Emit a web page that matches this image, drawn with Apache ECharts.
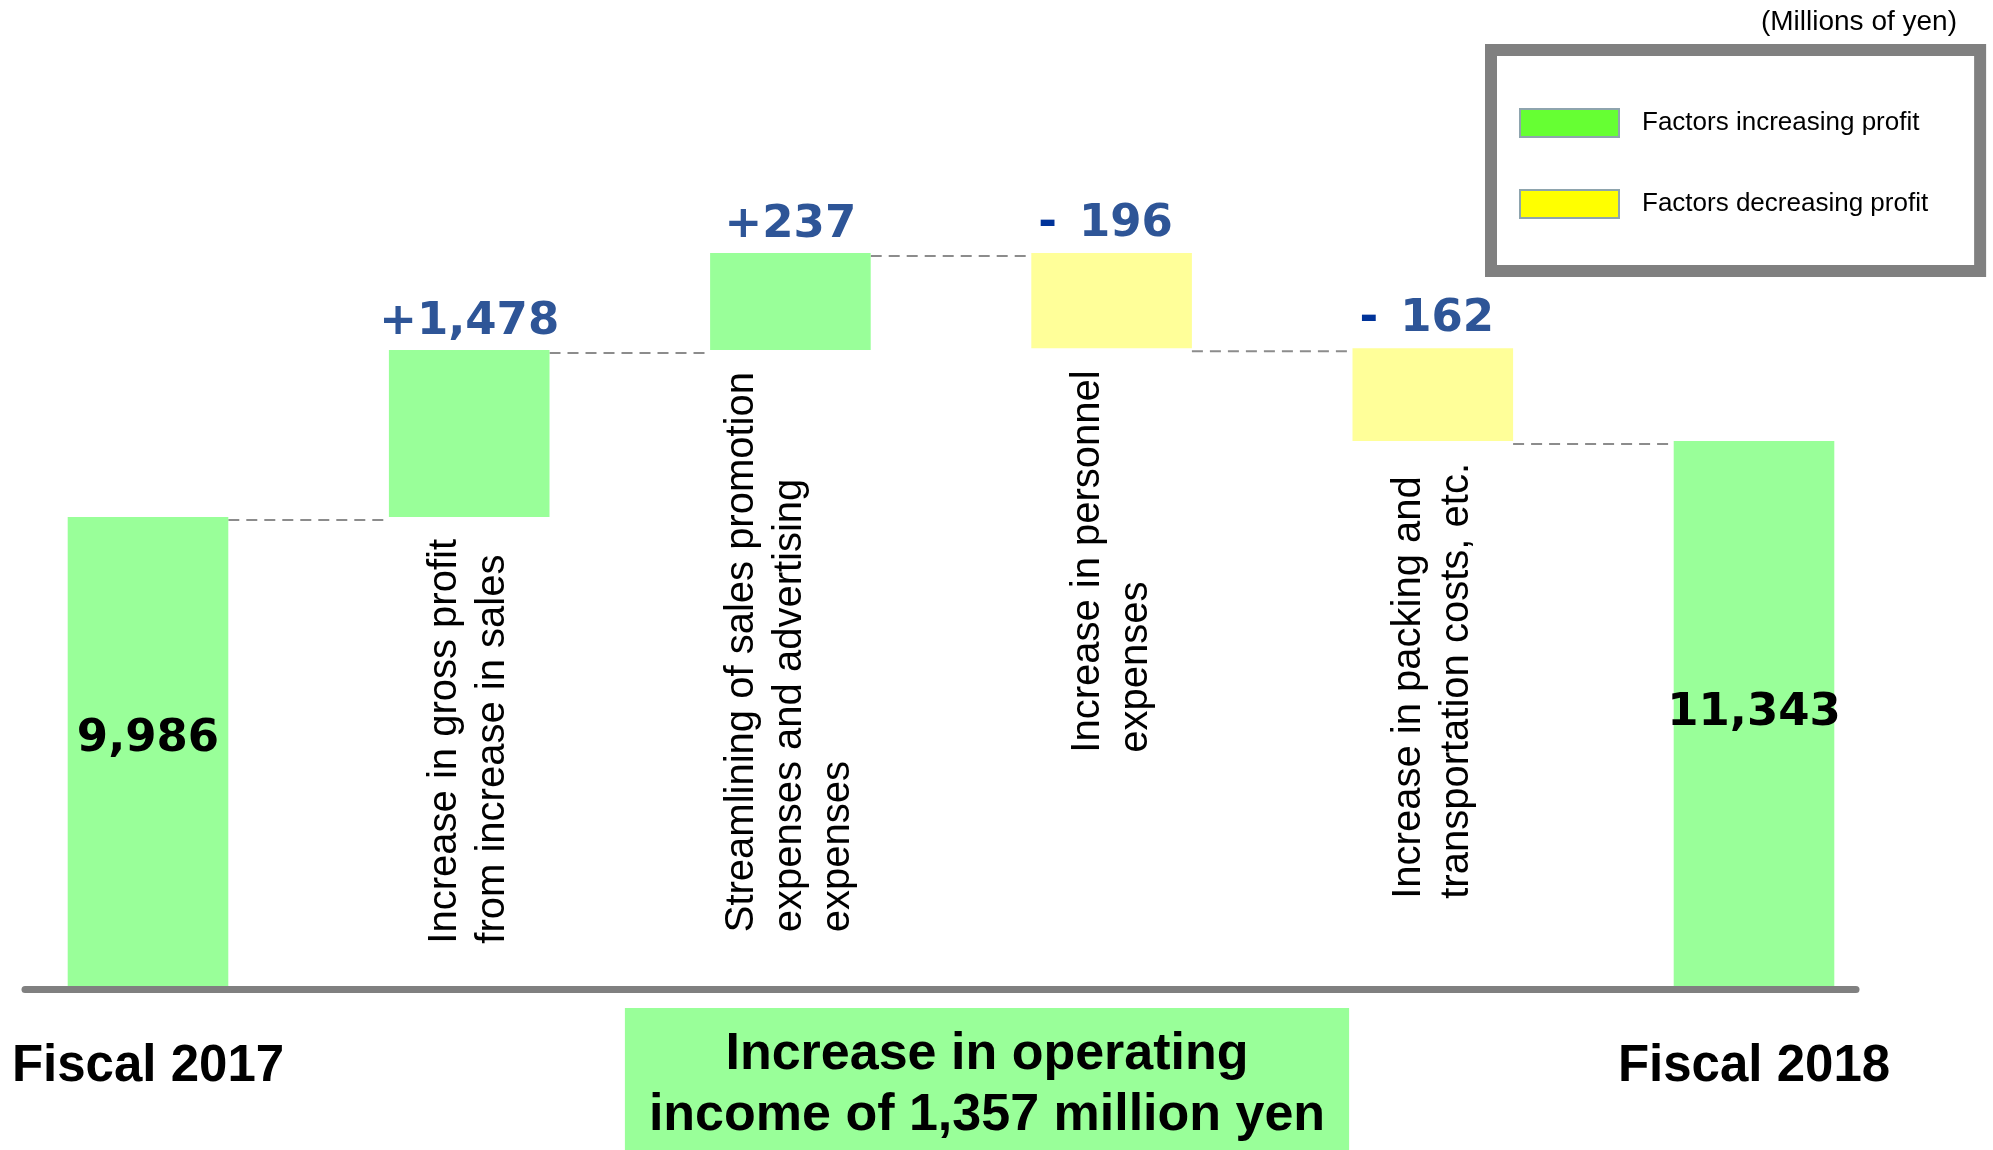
<!DOCTYPE html>
<html><head><meta charset="utf-8">
<script src="https://cdn.jsdelivr.net/npm/echarts@6/dist/echarts.min.js"></script>
<style>html,body{margin:0;padding:0;background:#fff}#c{width:1993px;height:1150px}</style>
</head><body><div id="c"></div>
<script>
// ---- data ----
const categories = [
  'Fiscal 2017',
  'Increase in gross profit\nfrom increase in sales',
  'Streamlining of sales promotion\nexpenses and advertising\nexpenses',
  'Increase in personnel\nexpenses',
  'Increase in packing and\ntransportation costs, etc.',
  'Fiscal 2018'
];
const amounts = [9986, 1478, 237, -196, -162, 11343];   // millions of yen
const isTotal = [true, false, false, false, false, true];
const legendNames = ['Factors increasing profit', 'Factors decreasing profit'];
const totalName = 'Operating income';
const unitNote = '(Millions of yen)';

// ---- waterfall derivation ----
const fmt = v => Math.abs(v).toLocaleString('en-US');
const base = [], tot = [], inc = [], dec = [], levels = [];
let run = 0;
amounts.forEach((v, i) => {
  if (isTotal[i]) { base.push(0); tot.push(v); inc.push('-'); dec.push('-'); run = v; }
  else if (v >= 0) { base.push(run); inc.push(v); dec.push('-'); tot.push('-'); run += v; }
  else { base.push(run + v); dec.push(-v); inc.push('-'); tot.push('-'); run += v; }
  levels.push(run);
});
const peak = Math.max(...levels);
const change = amounts[amounts.length - 1] - amounts[0];
const connectors = levels.slice(0, -1).map((l, i) => [i, l]);
const totData = tot.map((v, i) => i === 0 ? {value: v, label: {offset: [0, -12]}} : v);

const chart = echarts.init(document.getElementById('c'), null, {renderer: 'canvas'});
const labelFont = 'Liberation Sans';
const numFont = 'DejaVu Sans';

chart.setOption({
  animation: false,
  backgroundColor: '#fff',
  textStyle: {fontFamily: labelFont},
  title: [
    {text: unitNote, right: 36, top: 8, padding: 0,
     textStyle: {fontSize: 28, fontWeight: 'normal', fontFamily: labelFont, color: '#000'}},
    {text: 'Increase in operating\nincome of ' + fmt(change) + ' million yen',
     left: 963, top: 1008, textAlign: 'center', textVerticalAlign: 'top',
     padding: [16, 24, 40, 24], backgroundColor: '#99FF99',
     textStyle: {fontSize: 52, fontWeight: 'bold', fontFamily: labelFont, color: '#000', lineHeight: 61}}
  ],
  legend: {
    orient: 'vertical', left: 1491, top: 50,
    data: [{name: legendNames[0], itemStyle: {color: '#66FF33'}},
           {name: legendNames[1], itemStyle: {color: '#FFFF00'}}],
    icon: 'rect', itemWidth: 99, itemHeight: 28, itemGap: 51,
    padding: [58, 52, 52, 28], borderColor: '#808080', borderWidth: 12, backgroundColor: '#fff',
    itemStyle: {borderColor: '#8EA4AE', borderWidth: 2},
    selectedMode: false,
    textStyle: {fontSize: 26, fontFamily: labelFont, color: '#000', padding: [0, 0, 0, 18]}
  },
  grid: [
    {left: 148, right: 239, top: 253, bottom: 164, containLabel: false, outerBoundsMode: 'none'},
    {left: 25, right: 137, top: 253, bottom: 161, containLabel: false, outerBoundsMode: 'none'}
  ],
  xAxis: [
    {type: 'category', gridIndex: 0, data: categories, boundaryGap: false,
     axisLine: {show: false}, axisTick: {show: false}, splitLine: {show: false},
     axisLabel: {interval: 0, margin: 55, formatter: (v, i) => isTotal[i] ? v : '',
       fontSize: 51, fontWeight: 'bold', fontFamily: labelFont, color: '#000', lineHeight: 51}},
    {type: 'value', gridIndex: 1, min: 0, max: 1,
     axisLine: {show: true, onZero: false, lineStyle: {color: '#808080', width: 7}},
     axisTick: {show: false}, axisLabel: {show: false}, splitLine: {show: false}}
  ],
  yAxis: [
    {type: 'value', gridIndex: 0, min: 0, max: peak, show: false,
     splitLine: {show: false},
     breaks: [
       {start: 100, end: 9900, gap: 437.7},
       {start: 10000, end: 11330, gap: 74.1},
       {start: 11465, end: 11504, gap: 0.3},
       {start: 11540, end: 11670, gap: 60.7}
     ],
     breakArea: {show: false}},
    {type: 'value', gridIndex: 1, show: false, min: 0, max: 1}
  ],
  series: [
    {type: 'bar', name: 'base', stack: 'w', data: base, barWidth: '50%', clip: false, silent: true,
     itemStyle: {color: 'rgba(0,0,0,0)'},
     label: {show: true, position: 'insideTop', distance: 22, rotate: 90, align: 'right', verticalAlign: 'middle',
       formatter: p => isTotal[p.dataIndex] ? '' :
         categories[p.dataIndex].split('\n').map(s => '{a|' + s + '}').join('\n'),
       rich: {a: {fontSize: 40, fontFamily: labelFont, color: '#000', lineHeight: 48, align: 'left'}}}},
    {type: 'bar', name: totalName, stack: 'w', data: totData, barWidth: '50%', clip: false,
     itemStyle: {color: '#99FF99'},
     label: {show: true, position: 'inside', formatter: p => fmt(p.value),
       fontSize: 45, fontWeight: 'bold', fontFamily: numFont, color: '#000'}},
    {type: 'bar', name: legendNames[0], stack: 'w', data: inc, barWidth: '50%', clip: false,
     itemStyle: {color: '#99FF99'},
     label: {show: true, position: 'top', distance: 5, formatter: p => '{p|+' + fmt(p.value) + '}',
       rich: {p: {fontSize: 45, fontWeight: 'bold', fontFamily: numFont, color: '#2E5597'}}}},
    {type: 'bar', name: legendNames[1], stack: 'w', data: dec, barWidth: '50%', clip: false,
     itemStyle: {color: '#FFFF99'},
     label: {show: true, position: 'top', distance: 6, offset: [-6, 0],
       formatter: p => '{m|-}{p|' + fmt(p.value) + '}',
       rich: {p: {fontSize: 45, fontWeight: 'bold', fontFamily: numFont, color: '#2E5597'},
              m: {fontSize: 45, fontWeight: 'bold', fontFamily: numFont, color: '#003399', padding: [0, 22, 0, 0]}}}},
    {type: 'custom', name: 'connectors', data: connectors, silent: true, clip: false,
     encode: {x: 0, y: 1},
     renderItem: (params, api) => {
       const i = api.value(0), lvl = api.value(1);
       const p1 = api.coord([i, lvl]), p2 = api.coord([i + 1, lvl]);
       const half = api.size([1, 0])[0] * 0.25;
       return {type: 'line', shape: {x1: p1[0] + half, y1: p1[1] + 3, x2: p2[0] - half, y2: p2[1] + 3},
         style: {stroke: '#8c8c8c', lineWidth: 2, lineDash: [11, 7]}};
     }}
  ]
});
</script></body></html>
